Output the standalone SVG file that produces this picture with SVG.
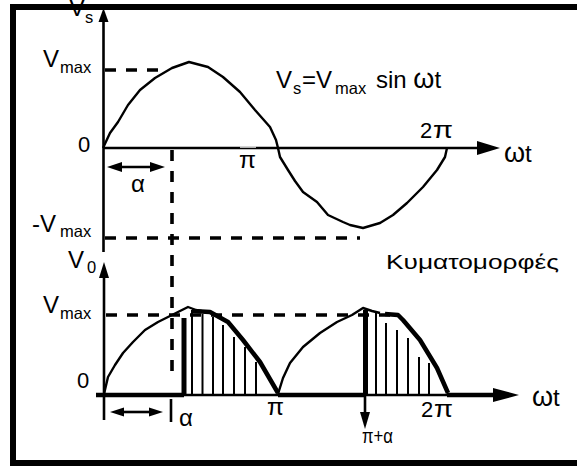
<svg xmlns="http://www.w3.org/2000/svg" width="577" height="466" viewBox="0 0 577 466">
<style>
text{font-family:"Liberation Sans",Arial,sans-serif;fill:#000}
.m{font-size:24px}
.n{font-size:22px}
.g{font-size:24px}
.w{font-size:27px}
.s{font-size:16.5px}
.ax{stroke:#000;stroke-width:2.6;fill:none}
.cv{stroke:#000;stroke-width:2.4;fill:none;stroke-linejoin:round}
.tk{stroke:#000;stroke-width:4.5;fill:none;stroke-linejoin:round}
.ds{stroke:#000;stroke-width:3.6;fill:none;stroke-dasharray:11 10}
.ht{stroke:#000;stroke-width:2;fill:none}
.ah{fill:#000;stroke:none}
</style>
<rect width="577" height="466" fill="#fff"/>
<g id="labels">
<text class="m" x="69" y="16">V</text><text class="s" x="85" y="23">s</text>
<text class="m" x="43" y="67">V</text><text class="s" x="60" y="73">max</text>
<text class="n" x="78" y="152">0</text>
<text class="m" x="32" y="232">-V</text><text class="s" x="60" y="237">max</text>
<text class="g" x="131" y="192">α</text>
<text class="g" x="239" y="168" textLength="17" lengthAdjust="spacingAndGlyphs">π</text>
<text class="n" x="420" y="138">2</text><text class="g" x="433" y="138" textLength="20" lengthAdjust="spacingAndGlyphs">π</text>
<text class="m" x="504" y="162"><tspan class="w">ω</tspan>t</text>
<text class="m" x="276" y="88">V</text><text class="s" x="293" y="94">s</text><text class="m" x="302" y="88">=V</text><text class="s" x="335" y="94">max</text><text class="m" x="376" y="88">sin <tspan class="w">ω</tspan>t</text>
<text x="386" y="269" font-family="DejaVu Sans, Liberation Sans, sans-serif" font-size="21" textLength="173" lengthAdjust="spacingAndGlyphs">Κυματομορφές</text>
<text class="m" x="68" y="268">V</text><text class="s" x="87" y="273">0</text>
<text class="m" x="43" y="313">V</text><text class="s" x="60" y="319">max</text>
<text class="n" x="77" y="388">0</text>
<text class="g" x="179" y="426">α</text>
<text class="g" x="267" y="415" textLength="17" lengthAdjust="spacingAndGlyphs">π</text>
<text class="n" x="421" y="417">2</text><text class="g" x="434" y="417" textLength="19" lengthAdjust="spacingAndGlyphs">π</text>
<text x="362" y="443" font-size="21" textLength="31" lengthAdjust="spacingAndGlyphs">π+α</text>
<text class="m" x="532" y="406"><tspan class="w">ω</tspan>t</text>
</g>
<g id="connectors">
<line class="ax" x1="103.5" y1="252" x2="103.5" y2="20"/>
<polygon class="ah" points="103.5,8 98.5,22 108.5,22"/>
<line class="ax" x1="103" y1="148" x2="482" y2="148"/>
<polygon class="ah" points="500,148 477,141 477,155"/>
<line x1="240" y1="147.2" x2="256" y2="147.2" stroke="#fff" stroke-width="1"/>
<line class="ds" x1="105" y1="70" x2="164" y2="70"/>
<line class="ds" x1="105" y1="238" x2="360" y2="238"/>
<line class="ds" x1="172" y1="150" x2="172" y2="378"/>
<line class="ds" x1="106" y1="315" x2="398" y2="315"/>
<line class="ax" x1="118" y1="167" x2="154" y2="167"/>
<polygon class="ah" points="107,167 122,162 122,172"/>
<polygon class="ah" points="165,167 150,162 150,172"/>
<polyline class="cv" points="103,148 110,133 118,122 128,105 140,90 155,78 172,68 189,62 208,67 223,77 240,92 255,110 270,127 276,140 278,148 280,157 288,170 295,181 303,192 317,202 328,215 343,222 350,225 363,228 380,223 393,215 407,203 423,187 437,170 445,157 447,148"/>
<line class="ax" x1="104" y1="420" x2="104" y2="275"/>
<polygon class="ah" points="104,262 99,278 109,278"/>
<line class="ax" x1="96" y1="395" x2="500" y2="395"/>
<line class="tk" x1="96" y1="395" x2="184" y2="395"/>
<line class="tk" x1="278" y1="395" x2="366" y2="395"/>
<line class="tk" x1="447" y1="395" x2="500" y2="395"/>
<polygon class="ah" points="519,395 493,388 493,402"/>
<line class="ax" x1="121" y1="412" x2="152" y2="412"/>
<polygon class="ah" points="110,412 124,407.5 124,416.5"/>
<polygon class="ah" points="163,412 149,407.5 149,416.5"/>
<line class="ax" x1="171" y1="399" x2="171" y2="422"/>
<line class="ax" x1="365" y1="395" x2="365" y2="415"/>
<polygon class="ah" points="365,429 360,412 370,412"/>
<polyline class="cv" points="104,394 108,377 115,365 123,353 133,342 145,330 158,322 172,315 188,307 196,310 206,312"/>
<line x1="184" y1="395" x2="184" y2="318" stroke="#000" stroke-width="5"/>
<polyline class="tk" points="192,311 210,312 228,322 243,340 260,362 278,393"/>
<g class="ht">
<line x1="192" y1="395" x2="192" y2="310"/>
<line x1="202.5" y1="395" x2="202.5" y2="314"/>
<line x1="213" y1="395" x2="213" y2="317"/>
<line x1="223" y1="395" x2="223" y2="325"/>
<line x1="234" y1="395" x2="234" y2="337"/>
<line x1="245" y1="395" x2="245" y2="347"/>
<line x1="256" y1="395" x2="256" y2="362"/>
</g>
<polyline class="cv" points="278,394 283,378 290,363 303,347 320,333 337,322 352,315 363,308 372,311 380,313"/>
<line x1="365.5" y1="395" x2="365.5" y2="310" stroke="#000" stroke-width="5"/>
<polyline class="tk" points="385,314 398,315 403,320 420,340 437,368 448,393"/>
<g class="ht">
<line x1="376" y1="395" x2="376" y2="313"/>
<line x1="386" y1="395" x2="386" y2="323"/>
<line x1="397" y1="395" x2="397" y2="330"/>
<line x1="408" y1="395" x2="408" y2="338"/>
<line x1="419" y1="395" x2="419" y2="357"/>
<line x1="429" y1="395" x2="429" y2="363"/>
</g>
</g>
<g id="frame">
<polyline points="13,466 13,7 590,7" fill="none" stroke="#000" stroke-width="6"/>
<line x1="10" y1="463" x2="590" y2="463" stroke="#000" stroke-width="6"/>
</g>
</svg>
